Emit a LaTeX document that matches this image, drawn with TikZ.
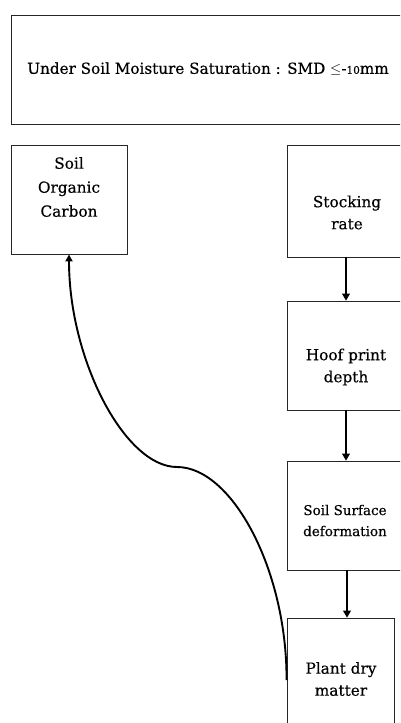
\documentclass[tikz,border=0pt]{standalone}
\usepackage{fontspec}
\setmainfont{DejaVu Serif}[FakeBold=0.4]
\usetikzlibrary{arrows.meta}
\newcommand{\osn}[1]{{\fontsize{10.5}{10}\selectfont #1}}
\begin{document}
\begin{tikzpicture}[x=1pt,y=-1pt,
  box/.style={draw=black!85,line width=0.9pt,rectangle,inner sep=0pt},
  txt/.style={align=center,inner sep=0pt,font=\fontsize{15.3}{22}\selectfont},
  small/.style={align=center,inner sep=0pt,font=\fontsize{13.5}{21}\selectfont},
  arr/.style={line width=1.1pt,-{Triangle[width=8pt,length=7pt]}},
  curv/.style={line width=1.9pt,-{Triangle[width=7pt,length=7pt]}}]
\useasboundingbox (0,0) rectangle (400,723);
\clip (0,0) rectangle (400,723);
\fill[white] (0,0) rectangle (400,723);
% boxes
\node[box,minimum width=394pt,minimum height=109pt] (top) at (208,69.5) {};
\node[box,minimum width=116pt,minimum height=109pt] (soc) at (69,199.5) {};
\node[box,minimum width=120pt,minimum height=112pt] (sr) at (347,201) {};
\node[box,minimum width=120pt,minimum height=109pt] (hp) at (347,355.5) {};
\node[box,minimum width=120pt,minimum height=109pt] (ssd) at (347,515.5) {};
\node[box,minimum width=107pt,minimum height=109pt] (pdm) at (340.5,672.5) {};
% texts
\node[txt,font=\fontsize{15.2}{22}\selectfont] (toptxt) at (208,69) {Under Soil Moisture Saturation : SMD $\leq$-\osn{10}mm};
\node[txt,font=\fontsize{15.3}{24}\selectfont] (soctxt) at (69,187) {Soil\\Organic\\Carbon};
\node[txt] (srtxt) at (347,212.5) {Stocking\\rate};
\node[txt] (hptxt) at (346,367) {Hoof print\\depth};
\node[small] (ssdtxt) at (345,520.5) {Soil Surface\\deformation};
\node[txt] (pdmtxt) at (341,679) {Plant dry\\matter};
% arrows
\draw[arr] (sr.south -| 346,0) -- (hp.north -| 346,0);
\draw[arr] (hp.south -| 346,0) -- (ssd.north -| 346,0);
\draw[arr] (ssd.south -| 347,0) -- (pdm.north -| 347,0);
\coordinate (cs) at ([yshift=-7.5pt]pdm.west);
\coordinate (mid) at (177,467);
\draw[curv] (cs) .. controls (287,570) and (232,467) .. (mid)
  .. controls (125,467) and (69,360) .. (soc.south);
\end{tikzpicture}
\end{document}
